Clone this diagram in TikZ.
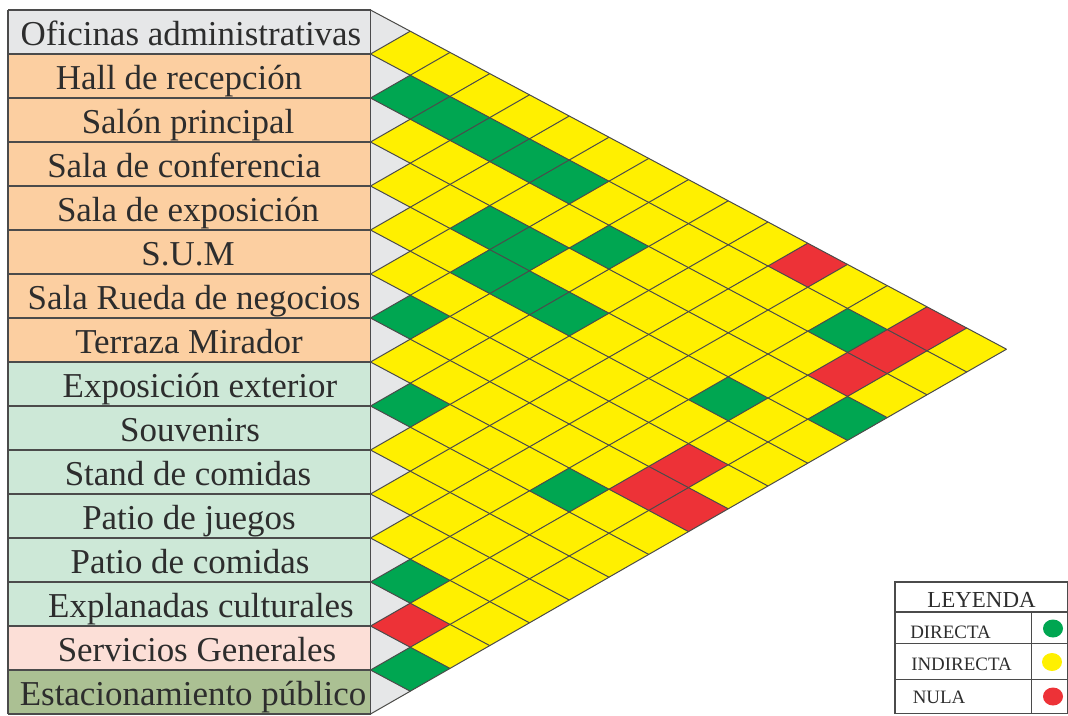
\documentclass[tikz,border=0pt]{standalone}
\usepackage{fontspec}
\setmainfont{Liberation Serif}
\definecolor{cgreen}{RGB}{0,166,81}
\definecolor{cyellow}{RGB}{255,240,0}
\definecolor{cred}{RGB}{237,50,55}
\definecolor{cgray}{RGB}{230,231,232}
\definecolor{corange}{RGB}{252,207,161}
\definecolor{cmint}{RGB}{205,232,215}
\definecolor{cpink}{RGB}{252,223,215}
\definecolor{colive}{RGB}{171,192,147}
\definecolor{cline}{RGB}{75,75,75}
\definecolor{ctext}{RGB}{45,45,45}
\newcommand{\lat}[2]{({370.5+39.75*((#1)-(#2))},{10+21.2*(#1)+22.8*(#2)})}
\begin{document}
\begin{tikzpicture}[x=0.75pt,y=-0.75pt,
  gridline/.style={draw=cline,line width=0.75pt},
  boxline/.style={draw=cline,line width=1.1pt},
  legline/.style={draw=cline,line width=0.8pt},
  lbl/.style={anchor=base,inner sep=0pt,text=ctext,font=\fontsize{26.2}{30}\selectfont},
  legtxt/.style={anchor=base west,inner sep=0pt,text=ctext,font=\fontsize{14.2}{16}\selectfont},
  leghead/.style={anchor=base,inner sep=0pt,text=ctext,font=\fontsize{17.2}{20}\selectfont}]
\useasboundingbox (0,0) rectangle (1068,715);
% label rows
\foreach \k/\txt/\col/\cx in {
  1/Oficinas administrativas/cgray/191,
  2/Hall de recepción/corange/179,
  3/Salón principal/corange/188,
  4/Sala de conferencia/corange/184,
  5/Sala de exposición/corange/188,
  6/S.U.M/corange/188,
  7/Sala Rueda de negocios/corange/194,
  8/Terraza Mirador/corange/189,
  9/Exposición exterior/cmint/200,
  10/Souvenirs/cmint/190,
  11/Stand de comidas/cmint/188,
  12/Patio de juegos/cmint/189,
  13/Patio de comidas/cmint/190,
  14/Explanadas culturales/cmint/201,
  15/Servicios Generales/cpink/197,
  16/Estacionamiento público/colive/193} {
  \fill[\col] (8,{10+44*(\k-1)}) rectangle (370.5,{10+44*\k});
  \node[lbl] (l\k) at (\cx,{10+44*\k-8.5}) {\txt};
}
\foreach \k in {0,...,16} {
  \draw[boxline] (8,{10+44*\k}) -- (370.5,{10+44*\k});
}
\draw[boxline] (8,10) -- (8,714);
% yellow field
\fill[cyellow] \lat{0}{0} -- \lat{16}{0} -- \lat{16}{16} -- cycle;
% grey triangles
\foreach \k in {1,...,16} {
  \fill[cgray] \lat{\k-1}{\k-1} -- \lat{\k}{\k-1} -- \lat{\k}{\k} -- cycle;
}
% green diamonds
\foreach \i/\j in {2/3,2/4,2/5,2/6,2/7,4/7,4/8,3/9,5/8,5/9,5/10,7/8,9/10,5/14,2/14,4/16,9/14,13/14,15/16} {
  \fill[cgreen] \lat{\j-1}{\i-1} -- \lat{\j}{\i-1} -- \lat{\j}{\i} -- \lat{\j-1}{\i} -- cycle;
}
% red diamonds
\foreach \i/\j in {1/12,1/15,2/15,3/15,7/15,8/15,8/16,14/15} {
  \fill[cred] \lat{\j-1}{\i-1} -- \lat{\j}{\i-1} -- \lat{\j}{\i} -- \lat{\j-1}{\i} -- cycle;
}
% grid lines
\foreach \k in {0,...,16} {
  \draw[gridline] \lat{\k}{\k} -- \lat{16}{\k};
  \draw[gridline] \lat{\k}{0} -- \lat{\k}{\k};
}
\draw[boxline] (370.5,10) -- (370.5,714);
% legend
\draw[legline] (895,582) rectangle (1068,713.5);
\draw[legline] (895,612) -- (1068,612);
\draw[legline] (895,643.5) -- (1068,643.5);
\draw[legline] (895,679.5) -- (1068,679.5);
\draw[legline] (1031.5,612) -- (1031.5,713.5);
\node[leghead] (lh) at (981.5,607.5) {LEYENDA};
\node[legtxt] (ld) at (910,638.5) {DIRECTA};
\node[legtxt] (li) at (911,670.5) {INDIRECTA};
\node[legtxt] (ln) at (912.5,703) {NULA};
\fill[cgreen] (1053,628.5) ellipse [x radius=10,y radius=9];
\fill[cyellow] (1052,662) ellipse [x radius=10,y radius=9];
\fill[cred] (1053,696.5) ellipse [x radius=10,y radius=9];
\end{tikzpicture}
\end{document}
